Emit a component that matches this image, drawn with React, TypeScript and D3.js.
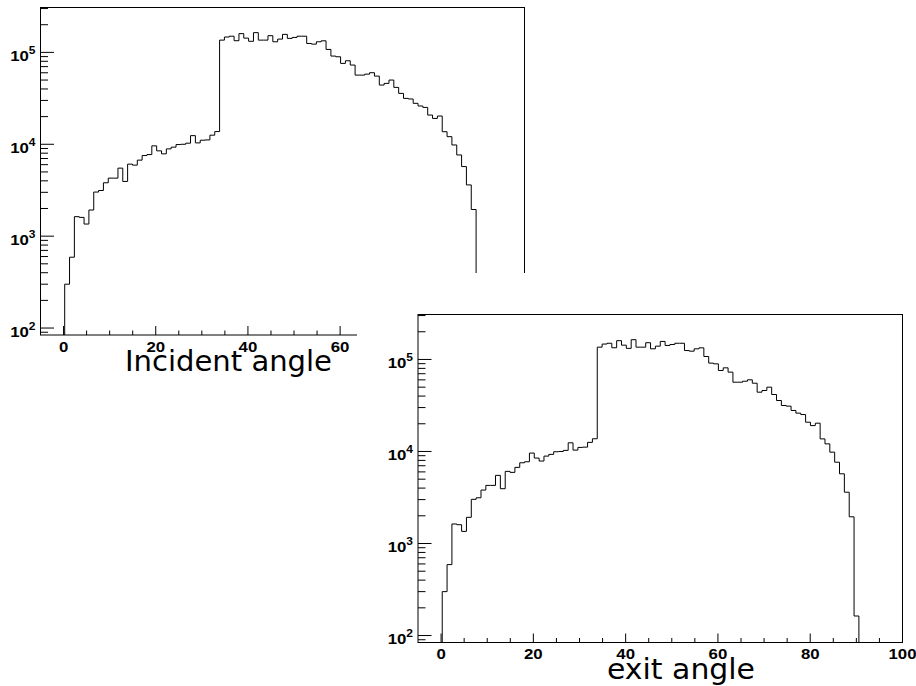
import React from "react";
import * as d3 from "d3";

// Histogram binning shared by both distributions (degrees)
const axisRange: [number, number] = [-5, 100];
const firstBinEdge = 0.25;
const binWidth = 1.05;

// Counts per bin, starting at firstBinEdge
const incidentCounts = [
  300, 590, 1630, 1600, 1355, 1925, 3020, 3140, 3810, 4280,
  4280, 5500, 3940, 6080, 5930, 6720, 7540, 7730, 9610, 8480,
  7870, 8910, 9300, 9930, 10000, 10280, 12420, 10350, 11070, 11150,
  12560, 13750, 136000, 147000, 150000, 134000, 160000, 143000, 132000, 164000,
  136000, 136000, 152000, 130500, 139500, 157000, 142000, 145500, 150000, 150000,
  125000, 123000, 130500, 133700, 107700, 91200, 89600, 75900, 81100, 72800,
  56600, 56600, 58000, 60100, 55200, 44100, 46000, 50000, 41600, 35800,
  31600, 31100, 27900, 26100, 25200, 20800, 19100, 20300, 13700, 12100,
  9830, 7650, 5720, 3610, 1950, 163,
];

const exitCounts = [
  300, 590, 1630, 1600, 1355, 1925, 3020, 3140, 3810, 4280,
  4280, 5500, 3940, 6080, 5930, 6720, 7540, 7730, 9610, 8480,
  7870, 8910, 9300, 9930, 10000, 10280, 12420, 10350, 11070, 11150,
  12560, 13750, 136000, 147000, 150000, 134000, 160000, 143000, 132000, 164000,
  136000, 136000, 152000, 130500, 139500, 157000, 142000, 145500, 150000, 150000,
  125000, 123000, 130500, 133700, 107700, 91200, 89600, 75900, 81100, 72800,
  56600, 56600, 58000, 60100, 55200, 44100, 46000, 50000, 41600, 35800,
  31600, 31100, 27900, 26100, 25200, 20800, 19100, 20300, 13700, 12100,
  9830, 7650, 5720, 3610, 1950, 163,
];

const yRange: [number, number] = [84, 308000];
const xMajorTicks = [0, 20, 40, 60, 80, 100];
const xMinorTicks = [5, 10, 15, 25, 30, 35, 45, 50, 55, 65, 70, 75, 85, 90, 95];
const yDecades = [2, 3, 4, 5];
const yMinorMultipliers = [2, 3, 4, 5, 6, 7, 8, 9];

const LABEL_FONT = "'Liberation Sans', Arial, Helvetica, sans-serif";
const TITLE_FONT = "'DejaVu Sans', sans-serif";
// labels are drawn slightly widened, like the original canvas output
const LABEL_STRETCH = 1.2;

type PanelProps = {
  left: number;
  top: number;
  width: number;
  height: number;
  counts: number[];
  title: string;
  titleX: number;
  titleY: number;
  titleLength: number;
};

function Panel({ left, top, width, height, counts, title, titleX, titleY, titleLength }: PanelProps) {
  const x = d3.scaleLinear().domain(axisRange).range([left, left + width]);
  const y = d3.scaleLog().domain(yRange).range([top + height, top]);
  const bottom = top + height;

  const pts: [number, number][] = [];
  const start = firstBinEdge;
  pts.push([x(start), bottom]);
  counts.forEach((v, i) => {
    const lo = start + i * binWidth;
    const hi = lo + binWidth;
    pts.push([x(lo), y(v)]);
    pts.push([x(hi), y(v)]);
  });
  pts.push([x(start + counts.length * binWidth), bottom]);
  const path = d3.line()(pts) ?? "";

  const minorY: number[] = [];
  [1, ...yDecades].forEach((p) => {
    yMinorMultipliers.forEach((m) => {
      const v = m * Math.pow(10, p);
      if (v >= yRange[0] && v <= yRange[1]) minorY.push(v);
    });
  });

  return (
    <g>
      <rect x={left} y={top} width={width} height={height} fill="#fff" />
      <path d={path} fill="none" stroke="#000" strokeWidth={1} />
      {/* Y ticks (log) */}
      {yDecades.map((p) => (
        <line key={"yM" + p} x1={left} x2={left + 13.5} y1={y(Math.pow(10, p))} y2={y(Math.pow(10, p))} stroke="#000" strokeWidth={1} />
      ))}
      {minorY.map((v) => (
        <line key={"ym" + v} x1={left} x2={left + 7.5} y1={y(v)} y2={y(v)} stroke="#000" strokeWidth={1} />
      ))}
      {yDecades.map((p) => (
        <g key={"yl" + p} transform={`translate(${left - 5},${y(Math.pow(10, p)) + 8.5}) scale(${LABEL_STRETCH},1)`}>
          <text
            x={0}
            y={0}
            textAnchor="end"
            fontFamily={LABEL_FONT}
            fontWeight="bold"
            fontSize={14}
            fill="#000"
          >
            10
            <tspan fontSize={10} dy={-7}>
              {p}
            </tspan>
          </text>
        </g>
      ))}
      {/* X ticks */}
      {xMajorTicks.map((t) => (
        <line key={"xM" + t} x1={x(t)} x2={x(t)} y1={bottom} y2={bottom - 9} stroke="#000" strokeWidth={1} />
      ))}
      {xMinorTicks.map((t) => (
        <line key={"xm" + t} x1={x(t)} x2={x(t)} y1={bottom} y2={bottom - 4.5} stroke="#000" strokeWidth={1} />
      ))}
      {xMajorTicks.map((t) => (
        <g key={"xl" + t} transform={`translate(${x(t)},${bottom + 16.5}) scale(${LABEL_STRETCH},1)`}>
          <text
            x={0}
            y={0}
            textAnchor="middle"
            fontFamily={LABEL_FONT}
            fontWeight="bold"
            fontSize={14}
            fill="#000"
          >
            {t}
          </text>
        </g>
      ))}
      <rect x={left} y={top} width={width} height={height} fill="none" stroke="#000" strokeWidth={1} />
      <text
        x={titleX}
        y={titleY}
        fontFamily={TITLE_FONT}
        fontSize={28.5}
        fill="#000"
        textLength={titleLength}
        lengthAdjust="spacingAndGlyphs"
      >
        {title}
      </text>
    </g>
  );
}

export default function App() {
  return (
    <svg
      width={916}
      height={686}
      style={{ position: "absolute", left: 0, top: 0, background: "#fff" }}
    >
      <rect x={0} y={0} width={916} height={686} fill="#fff" />
      <Panel
        left={40.5}
        top={7.5}
        width={484}
        height={327.5}
        counts={incidentCounts}
        title="Incident angle"
        titleX={125}
        titleY={370.5}
        titleLength={207}
      />
      {/* second pad drawn over the first */}
      <rect x={357} y={273} width={559} height={413} fill="#fff" />
      <Panel
        left={418}
        top={314.5}
        width={484.5}
        height={328}
        counts={exitCounts}
        title="exit angle"
        titleX={607}
        titleY={679}
        titleLength={148}
      />
    </svg>
  );
}
